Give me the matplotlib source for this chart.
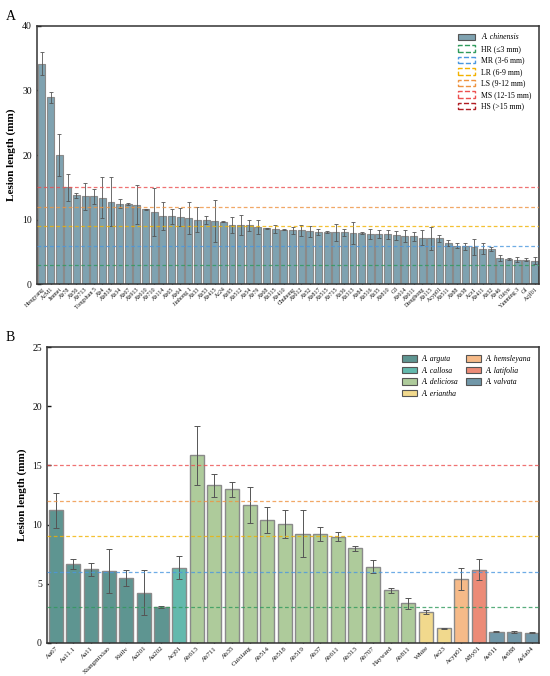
import matplotlib
matplotlib.use('Agg')
import matplotlib.pyplot as plt
from matplotlib.patches import Patch
import numpy as np

plt.rcParams['font.family'] = ['Liberation Serif', 'DejaVu Serif']

# Panel A - A. chinensis accessions
names_a = ['Hongyang', 'AcM1', 'Jinmei', 'Ab78', 'Ab56', 'Ab713', 'Tongshan 5', 'Ab4',
           'Ab818', 'Ab34', 'Ab67', 'Ab913', 'Ab610', 'Ab710', 'Ab114', 'Ab65', 'Ab64',
           'Jinhong 1', 'Ab33', 'Ab53', 'Ab415', 'Ac24', 'Ab95', 'Ab512', 'Ab54', 'Ab79',
           'Ab68', 'Ab315', 'Ab410', 'Chuhong', 'Ab612', 'Ab52', 'Ab817', 'Ab515', 'Ab715',
           'Ab36', 'Ab313', 'Ab84', 'Ab516', 'Ab35', 'Ab810', 'G3', 'Ab614', 'Ab611',
           'Donghong', 'Ab115', 'Acyp01', 'Ab511', 'Ab88', 'Ab38', 'Acx1', 'Ab411', 'Ab32',
           'Ab46', 'Cuiyu', 'Yanming 3', 'Gf', 'Acjf01']
mean_a = [34.1, 28.9, 20.0, 15.0, 13.8, 13.6, 13.6, 13.4, 12.8, 12.5, 12.4, 12.3, 11.6,
          11.2, 10.6, 10.5, 10.4, 10.3, 10.0, 9.9, 9.8, 9.7, 9.2, 9.15, 9.1, 8.9, 8.65,
          8.5, 8.43, 8.33, 8.33, 8.17, 8.07, 8.07, 8.07, 8.02, 7.97, 7.92, 7.81, 7.76,
          7.71, 7.6, 7.45, 7.4, 7.24, 7.14, 7.09, 6.41, 6.0, 5.9, 5.79, 5.54, 5.48,
          4.03, 3.93, 3.83, 3.83, 3.67]
err_a = [1.8, 0.8, 3.2, 2.1, 0.4, 2.1, 1.2, 3.2, 3.8, 0.7, 0.2, 3.0, 0.1, 3.7, 2.2, 1.1,
         1.4, 2.5, 1.9, 0.6, 3.2, 0.1, 1.2, 1.5, 0.9, 1.1, 0.1, 0.6, 0.05, 0.5, 0.8, 0.8,
         0.5, 0.2, 1.3, 0.5, 1.7, 0.15, 0.8, 0.6, 0.7, 0.7, 0.9, 0.7, 1.2, 1.8, 0.5, 0.5,
         0.4, 0.55, 1.25, 0.9, 0.3, 0.45, 0.2, 0.35, 0.25, 0.55]

# Panel B - other species
names_b = ['Aa67', 'Aa11.1', 'Aa11', 'Xiangmixiao', 'Kuilv', 'Aa201', 'Aa202', 'Acj01',
           'Ab613', 'Ab711', 'Ab35', 'Cuixiang', 'Ab514', 'Ab518', 'Ab519', 'Ab37',
           'Ab611', 'Ab313', 'Ab707', 'Hayward', 'Ab811', 'White', 'Ae23', 'Acyp01',
           'ABy01', 'Av611', 'Av688', 'Avfa04']
species_b = ['A. arguta'] * 7 + ['A. callosa'] + ['A. deliciosa'] * 13 + \
            ['A. eriantha'] * 2 + ['A. hemsleyana'] + ['A. latifolia'] + ['A. valvata'] * 3
mean_b = [11.2, 6.66, 6.2, 6.06, 5.47, 4.22, 3.03, 6.35, 15.86, 13.31, 12.97, 11.64,
          10.37, 10.06, 9.24, 9.2, 8.98, 7.99, 6.43, 4.42, 3.34, 2.58, 1.22, 5.38, 6.18,
          0.93, 0.9, 0.85]
err_b = [1.5, 0.44, 0.54, 1.87, 0.65, 1.9, 0.1, 1.0, 2.5, 1.0, 0.6, 1.5, 1.1, 1.16,
         1.97, 0.58, 0.4, 0.2, 0.55, 0.2, 0.48, 0.17, 0.05, 0.95, 0.9, 0.05, 0.1, 0.05]

species_colors = {'A. arguta': '#5e9591', 'A. callosa': '#63b9ad', 'A. deliciosa': '#aecb9b',
                  'A. eriantha': '#f1d98d', 'A. hemsleyana': '#f6ba88',
                  'A. latifolia': '#ec8b77', 'A. valvata': '#7197a8'}

# resistance thresholds
grades = ['HR (≤3 mm)', 'MR (3-6 mm)', 'LR (6-9 mm)', 'LS (9-12 mm)', 'MS (12-15 mm)', 'HS (>15 mm)']
grade_colors = ['#2f9a5c', '#4a97e0', '#f2b200', '#ee9340', '#ec5050', '#b01c22']
thresholds = [3, 6, 9, 12, 15]

fig = plt.figure(figsize=(5.5, 6.76), dpi=100)
ax1 = fig.add_axes([0.0667, 0.5794, 0.9138, 0.3826])
ax2 = fig.add_axes([0.0849, 0.0493, 0.895, 0.4369])


def style_axis(ax):
    for s in ax.spines.values():
        s.set_linewidth(1.1)
        s.set_color('#333333')
    ax.tick_params(axis='both', direction='in', length=3, width=1.0, colors='#111111')
    ax.tick_params(axis='y', labelsize=7)
    ax.set_ylabel('Lesion length (mm)', fontsize=8, fontweight='bold')


# --- panel A ---
x_a = np.arange(len(names_a))
ax1.bar(x_a, mean_a, width=0.8, color='#7fa2b0', edgecolor='#8a8a8a', linewidth=0.8,
        yerr=err_a, error_kw=dict(ecolor='#555555', elinewidth=0.6, capsize=1.5, capthick=0.6),
        zorder=2)
for t, c in zip(thresholds, grade_colors):
    ax1.axhline(t, color=c, linestyle='--', linewidth=0.9, dashes=(3, 2), alpha=0.8, zorder=3)
ax1.set_xlim(-0.6, len(names_a) - 0.45)
ax1.set_ylim(0, 40)
ax1.set_yticks([0, 10, 20, 30, 40])
ax1.set_xticks(x_a)
ax1.set_xticklabels(names_a, rotation=45, ha='right', rotation_mode='anchor', fontsize=4.3)
style_axis(ax1)
ax1.tick_params(axis='x', pad=1.5)
handles_a = [Patch(facecolor='#7fa2b0', edgecolor='#555555', linewidth=0.8)]
handles_a += [Patch(facecolor='none', edgecolor=c, linestyle='--', linewidth=1.0) for c in grade_colors]
leg_a = ax1.legend(handles_a, ['A. chinensis'] + grades, loc='upper right', frameon=False,
                   fontsize=5.6, handlelength=2.2, handleheight=0.9, labelspacing=0.45,
                   borderaxespad=0.6)
leg_a.get_texts()[0].set_fontstyle('italic')

# --- panel B ---
x_b = np.arange(len(names_b))
colors_b = [species_colors[s] for s in species_b]
ax2.bar(x_b, mean_b, width=0.8, color=colors_b, edgecolor='#8a8a8a', linewidth=1.0,
        yerr=err_b, error_kw=dict(ecolor='#555555', elinewidth=0.7, capsize=2.5, capthick=0.7),
        zorder=2)
for t, c in zip(thresholds, grade_colors):
    ax2.axhline(t, color=c, linestyle='--', linewidth=0.9, dashes=(3, 2), alpha=0.8, zorder=3)
ax2.set_xlim(-0.51, len(names_b) - 0.59)
ax2.set_ylim(0, 25)
ax2.set_yticks([0, 5, 10, 15, 20, 25])
ax2.set_xticks(x_b)
ax2.set_xticklabels(names_b, rotation=45, ha='right', rotation_mode='anchor', fontsize=5)
style_axis(ax2)
ax2.tick_params(axis='x', pad=2)
handles_b = [Patch(facecolor=c, edgecolor='#555555', linewidth=0.8) for c in species_colors.values()]
leg_b = ax2.legend(handles_b, list(species_colors.keys()), loc='upper right', frameon=False,
                   ncol=2, fontsize=5.6, handlelength=1.9, handleheight=0.9,
                   labelspacing=0.45, columnspacing=1.0, handletextpad=0.6, borderaxespad=0.6)
for t in leg_b.get_texts():
    t.set_fontstyle('italic')

fig.text(0.01, 0.985, 'A', fontsize=10, va='top')
fig.text(0.01, 0.51, 'B', fontsize=10, va='top')

fig.savefig('out.png', dpi=100)
